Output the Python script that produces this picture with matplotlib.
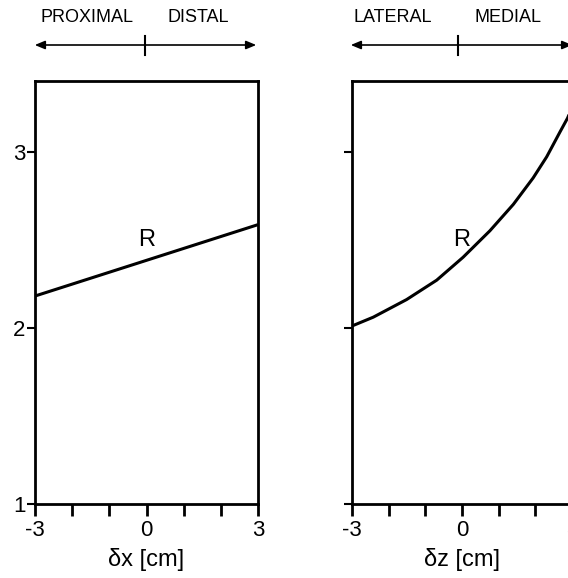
import matplotlib
matplotlib.use("Agg")
import matplotlib.pyplot as plt
from matplotlib.patches import FancyArrowPatch
from matplotlib.lines import Line2D

plt.rcParams['font.family'] = ['Liberation Sans', 'DejaVu Sans']

# left panel: R vs dx
dx = [-3, 3]
r_dx = [2.18, 2.585]
# right panel: R vs dz
dz = [-3.0, -2.42, -1.51, -0.69, 0.03, 0.76, 1.40, 1.94, 2.31, 2.67, 2.88, 3.0]
r_dz = [2.01, 2.06, 2.16, 2.27, 2.40, 2.55, 2.70, 2.85, 2.97, 3.11, 3.19, 3.25]

xticks = [-3, -2, -1, 0, 1, 2, 3]
xlabels = ['-3', '', '', '0', '', '', '3']
yticks = [1, 2, 3]

W, H = 568, 578
fig = plt.figure(figsize=(W / 100, H / 100), dpi=100)

def px(x0, y0, x1, y1):
    return [x0 / W, 1 - y1 / H, (x1 - x0) / W, (y1 - y0) / H]

axL = fig.add_axes(px(35, 81, 258, 504))
axR = fig.add_axes(px(352, 81, 572, 504))

for ax, xs, ys, lab in [(axL, dx, r_dx, 'δx [cm]'), (axR, dz, r_dz, 'δz [cm]')]:
    ax.plot(xs, ys, color='black', lw=2.2, solid_capstyle='butt')
    ax.set_xlim(-3, 3)
    ax.set_ylim(1, 3.4)
    ax.set_xticks(xticks)
    ax.set_xticklabels(xlabels, fontsize=16)
    ax.set_yticks(yticks)
    for s in ax.spines.values():
        s.set_linewidth(2.0)
    ax.tick_params(axis='x', direction='out', length=8.5, width=2.0, pad=3)
    ax.tick_params(axis='y', direction='out', length=6, width=1.5, pad=1, labelsize=16)
    ax.set_xlabel(lab, fontsize=17, labelpad=5)
    ax.text(0, 2.5, 'R', fontsize=17, ha='center', va='center')

axR.set_yticklabels([])

# direction arrows and labels above the panels
def direction(x0, x1, xm, t1, t1x, t2, t2x):
    y = 1 - 45 / H
    fig.add_artist(FancyArrowPatch((x0 / W, y), (x1 / W, y), transform=fig.transFigure,
                                   arrowstyle='<|-|>,head_length=6,head_width=2.5',
                                   color='black', lw=1.2, mutation_scale=1))
    fig.add_artist(Line2D([xm / W, xm / W], [1 - 36 / H, 1 - 55 / H],
                          transform=fig.transFigure, color='black', lw=1.5))
    fig.text(t1x / W, 1 - 18 / H, t1, ha='center', va='center', fontsize=13)
    fig.text(t2x / W, 1 - 18 / H, t2, ha='center', va='center', fontsize=13)

direction(32, 259, 145, 'PROXIMAL', 87, 'DISTAL', 198)
direction(348, 575, 458, 'LATERAL', 393, 'MEDIAL', 508)

fig.savefig('out.png', dpi=100)
